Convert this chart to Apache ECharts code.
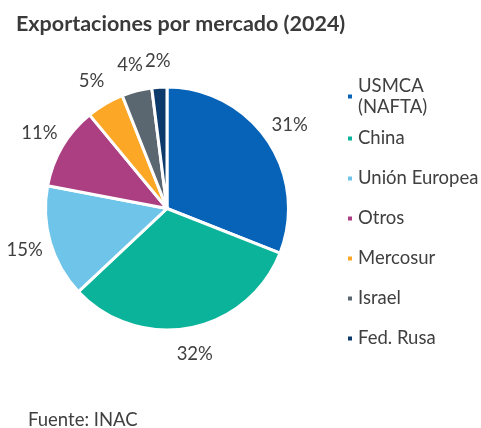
<!DOCTYPE html>
<html>
<head>
<meta charset="utf-8">
<script src="https://cdn.jsdelivr.net/npm/echarts@6/dist/echarts.min.js"></script>
<style>
  html, body { margin: 0; padding: 0; background: #fff; }
  #main { width: 481px; height: 428px; }
</style>
</head>
<body>
<div id="main"></div>
<script>
  var markets = ['USMCA (NAFTA)', 'China', 'Unión Europea', 'Otros', 'Mercosur', 'Israel', 'Fed. Rusa'];
  var shares = [31, 32, 15, 11, 5, 4, 2];
  var colors = ['#0663b7', '#0bb39b', '#6fc4e9', '#ac3f82', '#fca826', '#5b6770', '#0c3a6a'];

  var pieData = [];
  for (var i = 0; i < markets.length; i++) {
    pieData.push({ name: markets[i], value: shares[i] });
  }

  var font = 'Lato, "Open Sans", sans-serif';
  var textColor = '#404040';

  var myChart = echarts.init(document.getElementById('main'));

  var option = {
    color: colors,
    animation: false,
    title: [
      {
        text: 'Exportaciones por mercado (2024)',
        left: 16,
        top: 13,
        padding: 0,
        textStyle: { fontFamily: font, fontSize: 21.5, fontWeight: 'bold', color: '#3a3a3a' }
      },
      {
        text: 'Fuente: INAC',
        left: 28,
        top: 411,
        padding: 0,
        textStyle: { fontFamily: font, fontSize: 18.5, fontWeight: 'normal', color: textColor }
      }
    ],
    legend: [
      {
        // first item wraps on two lines, icon stays on the first line
        orient: 'vertical',
        left: 346,
        top: 65,
        padding: 0,
        icon: 'rect',
        itemWidth: 6,
        itemHeight: 6,
        itemGap: 0,
        selectedMode: false,
        data: [markets[0]],
        formatter: function (name) { return name.replace(' (', '\n('); },
        textStyle: { fontFamily: font, fontSize: 18.5, color: textColor, lineHeight: 21, padding: [21, 0, 0, 0] }
      },
      {
        orient: 'vertical',
        left: 346,
        top: 128,
        padding: 0,
        icon: 'rect',
        itemWidth: 6,
        itemHeight: 6,
        itemGap: 19,
        selectedMode: false,
        data: markets.slice(1),
        textStyle: { fontFamily: font, fontSize: 18.5, color: textColor, lineHeight: 21 }
      }
    ],
    series: [
      {
        type: 'pie',
        center: [167, 208.5],
        radius: [0, 121.5],
        startAngle: 90,
        clockwise: true,
        label: { show: false },
        labelLine: { show: false },
        itemStyle: { borderColor: '#fff', borderWidth: 3 },
        emphasis: { disabled: true },
        data: pieData
      },
      {
        // transparent ring that only carries the percent labels
        type: 'pie',
        center: [167, 208.5],
        radius: [121.5, 169],
        startAngle: 90,
        clockwise: true,
        silent: true,
        itemStyle: { color: 'transparent' },
        label: {
          show: true,
          position: 'inside',
          formatter: '{c}%',
          fontFamily: font,
          fontSize: 18.5,
          color: textColor
        },
        labelLine: { show: false },
        emphasis: { disabled: true },
        data: pieData
      }
    ]
  };

  myChart.setOption(option);
</script>
</body>
</html>
